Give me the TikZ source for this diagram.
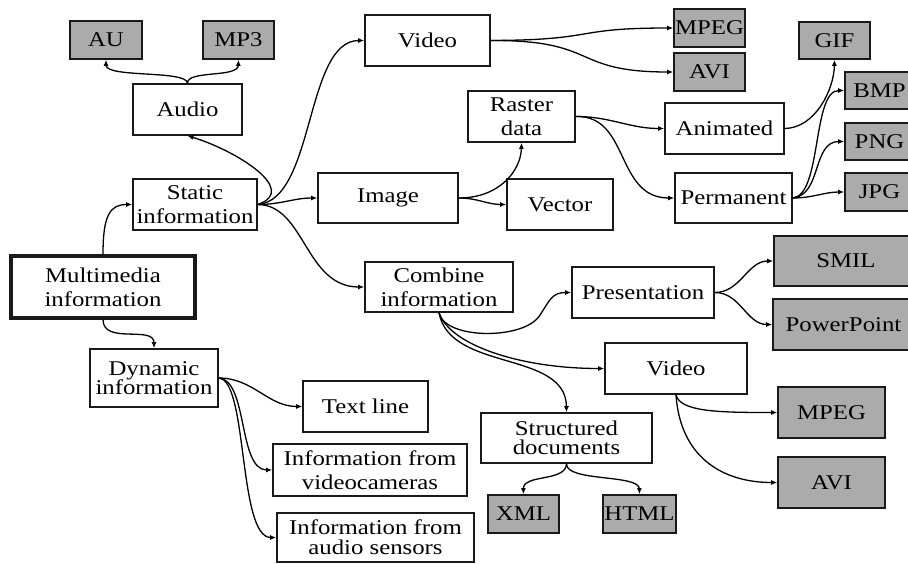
\documentclass[tikz,border=0pt]{standalone}
\usepackage{fontspec}
\setmainfont[FakeStretch=1.18]{Liberation Serif}
\usetikzlibrary{arrows.meta}
\definecolor{boxgray}{HTML}{ABABAB}
\tikzset{
  box/.style={draw=black!90, line width=1.6pt, fill=white, inner sep=0pt,
    align=center, font=\fontsize{21}{24}\selectfont},
  fmt/.style={box, fill=boxgray},
  root/.style={box, line width=3.2pt},
  link/.style={line width=1.3pt, -{Latex[length=6pt,width=5pt]}},
}
\begin{document}
\begin{tikzpicture}[x=1pt,y=-1pt]
\useasboundingbox (0,0) rectangle (908,563);

% root and first level
\node[root, minimum width=184, minimum height=62] (mm) at (103,287) {Multimedia\\information};
\node[box, minimum width=124, minimum height=51] (st) at (195,204.5) {Static\\information};
\node[box, minimum width=128, minimum height=58] (dy) at (154,378) {Dynamic\\[-5pt]information};

% static branch
\node[box, minimum width=109, minimum height=51] (au) at (187.5,109.5) {Audio};
\node[fmt, minimum width=72, minimum height=38] (auf) at (106,40) {AU};
\node[fmt, minimum width=71, minimum height=38] (mp3) at (238.5,40) {MP3};
\node[box, minimum width=125, minimum height=51] (vid) at (427.5,40.5) {Video};
\node[fmt, minimum width=71, minimum height=38] (mpeg) at (709.5,28) {MPEG};
\node[fmt, minimum width=71, minimum height=38] (avi) at (709.5,72) {AVI};
\node[box, minimum width=140, minimum height=50] (img) at (388,198) {Image};
\node[box, minimum width=107, minimum height=51] (ras) at (521.5,116.5) {Raster\\data};
\node[box, minimum width=106, minimum height=51] (vec) at (560,204.5) {Vector};
\node[box, minimum width=119, minimum height=51] (ani) at (724.5,128.5) {Animated};
\node[box, minimum width=117, minimum height=50] (per) at (733.5,198) {Permanent};
\node[fmt, minimum width=71, minimum height=37] (gif) at (834.5,40.5) {GIF};
\node[fmt, minimum width=69, minimum height=37] (bmp) at (879.5,90.5) {BMP};
\node[fmt, minimum width=69, minimum height=37] (png) at (879.5,141.5) {PNG};
\node[fmt, minimum width=69, minimum height=38] (jpg) at (879.5,192) {JPG};

% combined information
\node[box, minimum width=148, minimum height=50] (cmb) at (439,287) {Combine\\information};
\node[box, minimum width=142, minimum height=51] (pre) at (643,292.5) {Presentation};
\node[fmt, minimum width=144, minimum height=50] (smil) at (846,261) {SMIL};
\node[fmt, minimum width=141, minimum height=51] (ppt) at (843.5,324.5) {PowerPoint};
\node[box, minimum width=142, minimum height=51] (vid2) at (676,368.5) {Video};
\node[fmt, minimum width=107, minimum height=51] (mpeg2) at (831.5,412.5) {MPEG};
\node[fmt, minimum width=107, minimum height=51] (avi2) at (831.5,482.5) {AVI};
\node[box, minimum width=171, minimum height=50] (sd) at (566.5,438) {Structured\\[-5pt]documents};
\node[fmt, minimum width=71, minimum height=38] (xml) at (523.5,514) {XML};
\node[fmt, minimum width=73, minimum height=38] (html) at (639.5,514) {HTML};

% dynamic branch
\node[box, minimum width=125, minimum height=51] (txt) at (365.5,406.5) {Text line};
\node[box, minimum width=194, minimum height=52] (cam) at (370,470) {Information from\\videocameras};
\node[box, minimum width=197, minimum height=49] (snd) at (375.5,537.5) {Information from\\[-4pt]audio sensors};

% connectors
\draw[link] (mm.north) .. controls (103,215) and (110,204.5) .. (st.west);
\draw[link] (mm.south) .. controls (103,345) and (154,325) .. (dy.north);

\draw[link] (st.east) .. controls (300,190) and (235,150) .. (au.south);
\draw[link] (au.north) .. controls (187,70) and (106,78) .. (auf.south);
\draw[link] (au.north) .. controls (187,70) and (238,78) .. (mp3.south);
\draw[link] (st.east) .. controls (315,200) and (305,40.5) .. (vid.west);
\draw[link] (st.east) to[out=0,in=180] (img.west);
\draw[link] (st.east) .. controls (305,205) and (305,287) .. (cmb.west);

\draw[link] (vid.east) .. controls (600,40) and (570,28) .. (mpeg.west);
\draw[link] (vid.east) .. controls (600,40) and (570,72) .. (avi.west);

\draw[link] (img.east) .. controls (500,198) and (521,170) .. (ras.south);
\draw[link] (img.east) to[out=0,in=180] (vec.west);
\draw[link] (ras.east) to[out=0,in=180] (ani.west);
\draw[link] (ras.east) .. controls (630,115) and (615,198) .. (per.west);
\draw[link] (ani.east) .. controls (815,128) and (834,90) .. (gif.south);
\draw[link] (per.east) .. controls (822,195) and (812,90.5) .. (bmp.west);
\draw[link] (per.east) .. controls (822,195) and (812,141.5) .. (png.west);
\draw[link] (per.east) to[out=0,in=180] (jpg.west);

\draw[link] (cmb.south) .. controls (445,340) and (525,340) .. (540,315)
  .. controls (550,300) and (552,292.5) .. (pre.west);
\draw[link] (cmb.south) .. controls (450,345) and (520,368.5) .. (vid2.west);
\draw[link] (cmb.south) .. controls (450,372) and (566,350) .. (sd.north);
\draw[link] (pre.east) to[out=0,in=180] (smil.west);
\draw[link] (pre.east) to[out=0,in=180] (ppt.west);
\draw[link] (vid2.south) .. controls (680,412) and (720,412.5) .. (mpeg2.west);
\draw[link] (vid2.south) .. controls (680,455) and (720,482.5) .. (avi2.west);
\draw[link] (sd.south) .. controls (566,482) and (523,474) .. (xml.north);
\draw[link] (sd.south) .. controls (566,482) and (639,474) .. (html.north);

\draw[link] (dy.east) to[out=0,in=180] (txt.west);
\draw[link] (dy.east) .. controls (248,380) and (238,470) .. (cam.west);
\draw[link] (dy.east) .. controls (248,380) and (238,537.5) .. (snd.west);
\end{tikzpicture}
\end{document}
